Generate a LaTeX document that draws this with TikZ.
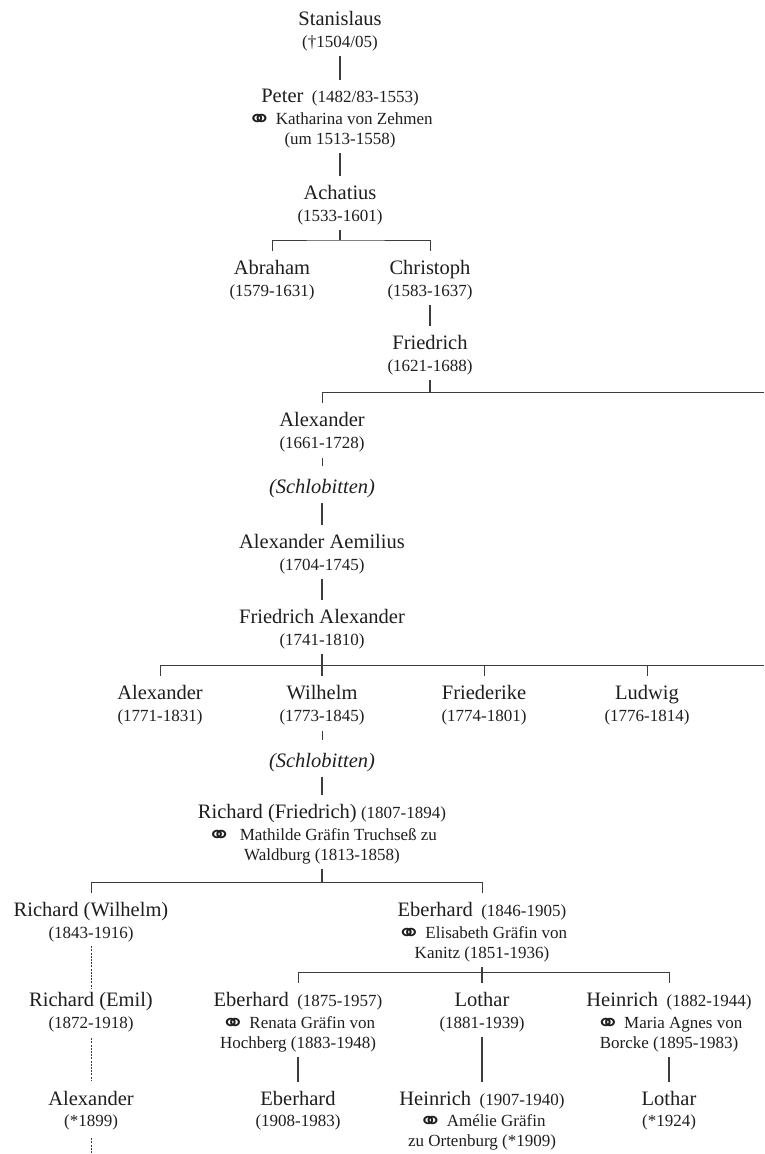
\documentclass[tikz,border=0pt]{standalone}
\usepackage{fontspec}
\usepackage{graphicx}
\setmainfont{Liberation Serif}
\newfontfamily\ringfont{DejaVu Sans}
\usetikzlibrary{calc}
\definecolor{ink}{HTML}{1E1E1E}
\definecolor{wire}{HTML}{3C3C3C}
\newcommand{\nmfont}{\fontsize{20.5}{22}\selectfont}
\newcommand{\nm}[1]{{\nmfont #1}}
\newcommand{\dt}{\fontsize{17}{20}\selectfont}
\newcommand{\mar}{\raisebox{-2.6pt}[0pt][0pt]{\scalebox{1.7}[1.45]{\ringfont\fontsize{17}{20}\selectfont ⚭}}}

\begin{document}
\begin{tikzpicture}[x=1pt,y=-1pt,
  person/.style={anchor=north,inner sep=0pt,align=center,text=ink,font=\dt},
  place/.style={person,font=\nmfont\itshape},
  link/.style={draw=wire,line width=1.1pt,shorten <=5pt,shorten >=9pt},
  shortlink/.style={draw=wire,line width=0.9pt,shorten <=6pt,shorten >=13pt},
  stub/.style={draw=wire,line width=1.1pt,shorten <=5pt},
  drop/.style={draw=wire,line width=1pt,shorten <=9pt},
  bar/.style={draw=wire,line width=1pt,shorten <=9pt,shorten >=9pt},
  dashlink/.style={draw=wire,line width=0.9pt,dash pattern=on 2pt off 1.2pt}]
\useasboundingbox (0,0) rectangle (764,1154);
% bracket points
\coordinate (b1) at (340,240);
\coordinate (b2e) at (764,392);
\coordinate (b3e) at (764,665);
\coordinate (b4) at (322,882);
\coordinate (b5) at (482,972);
\coordinate (tail) at (91,1154);
% persons
\node[person] (stan) at (340,11) {\nm{Stanislaus}\\[2pt](†1504/05)};
\node[person] (peter) at (340,89) {\nm{Peter}\ \ (1482/83-1553)\\[2pt]\mar\ Katharina von Zehmen\\(um 1513-1558)};
\node[person] (ach) at (340,185) {\nm{Achatius}\\[2pt](1533-1601)};
\node[person] (abr) at (272,260) {\nm{Abraham}\\[2pt](1579-1631)};
\node[person] (chr) at (430,260) {\nm{Christoph}\\[2pt](1583-1637)};
\node[person] (fri) at (430,335) {\nm{Friedrich}\\[2pt](1621-1688)};
\node[person] (alx) at (322,412) {\nm{Alexander}\\[2pt](1661-1728)};
\node[place] (sch1) at (322,479) {(Schlobitten)};
\node[person] (aem) at (322,534) {\nm{Alexander Aemilius}\\[2pt](1704-1745)};
\node[person] (fra) at (322,609) {\nm{Friedrich Alexander}\\[2pt](1741-1810)};
\node[person] (alx2) at (160,685) {\nm{Alexander}\\[2pt](1771-1831)};
\node[person] (wil) at (322,685) {\nm{Wilhelm}\\[2pt](1773-1845)};
\node[person] (fre) at (484,685) {\nm{Friederike}\\[2pt](1774-1801)};
\node[person] (lud) at (647,685) {\nm{Ludwig}\\[2pt](1776-1814)};
\node[place] (sch2) at (322,753) {(Schlobitten)};
\node[person] (ric) at (322,804) {\nm{Richard (Friedrich)} (1807-1894)\\[2pt]\mar\ \ Mathilde Gräfin Truchseß zu\\Waldburg (1813-1858)};
\node[person] (ricw) at (91,902) {\nm{Richard (Wilhelm)}\\[2pt](1843-1916)};
\node[person] (ebe) at (482,902) {\nm{Eberhard}\ \ (1846-1905)\\[2pt]\mar\ Elisabeth Gräfin von\\Kanitz (1851-1936)};
\node[person] (rice) at (91,992) {\nm{Richard (Emil)}\\[2pt](1872-1918)};
\node[person] (ebe2) at (298,992) {\nm{Eberhard}\ \ (1875-1957)\\[2pt]\mar\ Renata Gräfin von\\Hochberg (1883-1948)};
\node[person] (lot) at (482,992) {\nm{Lothar}\\[2pt](1881-1939)};
\node[person] (hei) at (669,992) {\nm{Heinrich}\ \ (1882-1944)\\[2pt]\mar\ Maria Agnes von\\Borcke (1895-1983)};
\node[person] (alx3) at (91,1091) {\nm{Alexander}\\[1pt](*1899)};
\node[person] (ebe3) at (298,1091) {\nm{Eberhard}\\[1pt](1908-1983)};
\node[person] (hei2) at (482,1091) {\nm{Heinrich}\ \ (1907-1940)\\[1pt]\mar\ Amélie Gräfin\\zu Ortenburg (*1909)};
\node[person] (lot2) at (669,1091) {\nm{Lothar}\\[1pt](*1924)};
% lines of descent
\draw[link] (stan) -- (peter);
\draw[link] (peter) -- (ach);
\draw[stub] (ach) -- (b1);
\draw[bar] (abr.north) |- (b1) -| (chr.north);
\draw[link] (chr) -- (fri);
\draw[stub] (fri) -- (fri |- b2e);
\draw[drop] (alx.north) |- (b2e);
\draw[shortlink] (alx) -- (sch1);
\draw[link] (sch1) -- (aem);
\draw[link] (aem) -- (fra);
\draw[link] (fra) -- (wil);
\draw[drop] (alx2.north) |- (b3e);
\foreach \c in {fre,lud}
  \draw[drop] (\c.north) -- (\c.north |- b3e);
\draw[shortlink] (wil) -- (sch2);
\draw[link] (sch2) -- (ric);
\draw[stub] (ric) -- (b4);
\draw[bar] (ricw.north) |- (b4) -| (ebe.north);
\draw[dashlink,shorten <=4pt,shorten >=4pt] (ricw) -- (rice);
\draw[dashlink,shorten <=6pt,shorten >=10pt] (rice) -- (alx3);
\draw[dashlink,shorten <=8pt] (alx3) -- (tail);
\draw[link] (ebe) -- (lot);
\draw[bar] (ebe2.north) |- (b5) -| (hei.north);
\draw[link] (ebe2) -- (ebe3);
\draw[link] (lot) -- (hei2);
\draw[link] (hei) -- (lot2);
\end{tikzpicture}
\end{document}
